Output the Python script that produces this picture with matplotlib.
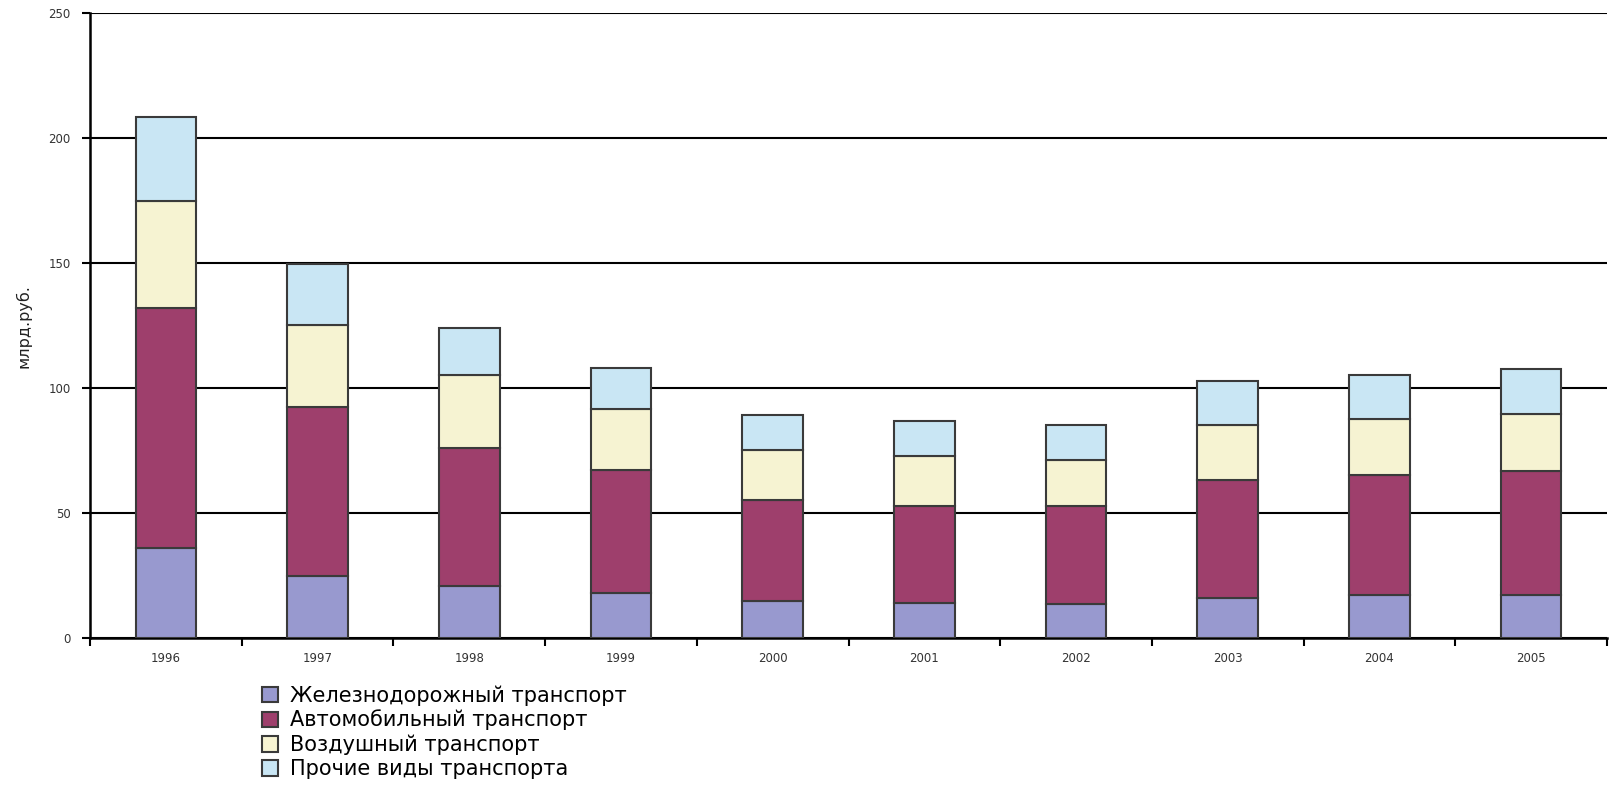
import matplotlib
matplotlib.use("Agg")
import matplotlib.pyplot as plt
import numpy as np

years = ["1996", "1997", "1998", "1999", "2000", "2001", "2002", "2003", "2004", "2005"]
rail = [36.2, 25.1, 21.0, 18.1, 14.8, 14.0, 13.6, 16.0, 17.3, 17.3]
auto = [95.8, 67.4, 55.1, 49.3, 40.7, 39.0, 39.4, 47.3, 48.1, 49.7]
air = [42.8, 32.9, 29.2, 24.3, 19.7, 19.8, 18.5, 22.2, 22.2, 22.6]
other = [33.7, 24.3, 18.9, 16.4, 14.0, 14.0, 14.0, 17.3, 17.7, 18.1]
series_names = ["Железнодорожный транспорт", "Автомобильный транспорт",
                "Воздушный транспорт", "Прочие виды транспорта"]
colors = ["#9899CF", "#9E3F6C", "#F6F3D2", "#C9E6F4"]
yticks = [0, 50, 100, 150, 200, 250]

plt.rcParams['font.family'] = ['DejaVu Sans']

fig = plt.figure(figsize=(16.11, 7.85), dpi=100)
ax = fig.add_axes([90/1611, 1-638.3/785, (1607-90)/1611, (638.3-13.3)/785])

x = np.arange(len(years))
bottom = np.zeros(len(years))
for vals, c, name in zip([rail, auto, air, other], colors, series_names):
    ax.bar(x, vals, width=0.4, bottom=bottom, color=c, edgecolor="#3a3a3a",
           linewidth=1.5, label=name, zorder=3)
    bottom += np.array(vals)

ax.set_xlim(-0.5, len(years) - 0.5)
ax.set_ylim(0, 250)
ax.set_yticks(yticks)
ax.set_yticklabels([str(v) for v in yticks], fontsize=8.5, color="#333333")
ax.yaxis.grid(True, color="black", linewidth=1.5, zorder=0)
ax.set_axisbelow(True)

ax.set_xticks(x)
ax.set_xticklabels(years, fontsize=8.5, color="#333333")
ax.set_xticks(np.arange(-0.5, len(years)), minor=True)
ax.tick_params(axis='x', which='major', length=0, pad=10)
ax.tick_params(axis='x', which='minor', length=6, width=1.5, direction='out')
ax.tick_params(axis='y', which='major', length=6, width=1.5, direction='out', pad=8)

for s in ["top", "right"]:
    ax.spines[s].set_visible(False)
for s in ["left", "bottom"]:
    ax.spines[s].set_linewidth(1.8)
    ax.spines[s].set_color("black")

ax.set_ylabel("млрд.руб.", fontsize=11.5, color="#222222", labelpad=12)

handles, labels = ax.get_legend_handles_labels()
fig.legend(handles, labels, loc="upper left",
           bbox_to_anchor=(262/1611, 1-685/785), frameon=False,
           fontsize=15, handlelength=0.75, handleheight=0.75,
           labelspacing=0.2, handletextpad=0.6, borderaxespad=0, borderpad=0)

fig.savefig("out.png", dpi=100)
